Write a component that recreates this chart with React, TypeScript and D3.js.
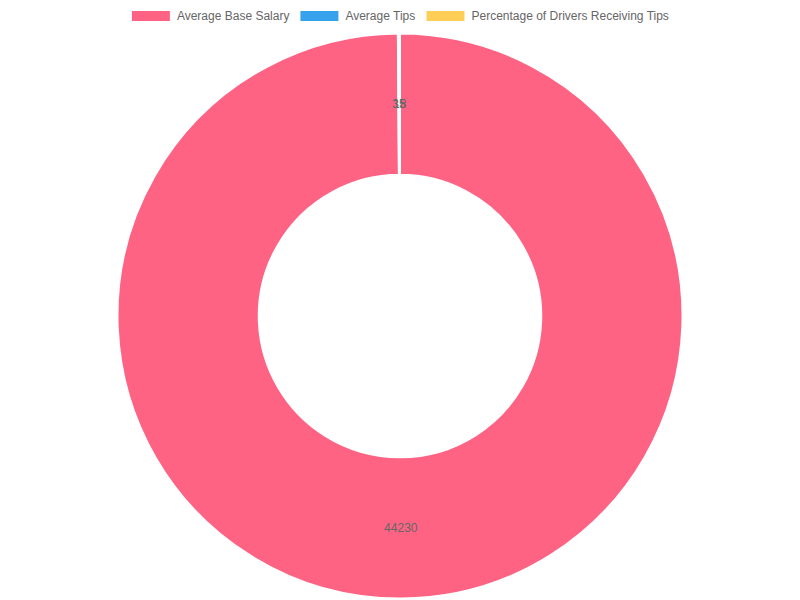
import React from "react";
import * as d3 from "d3";

const categories = ["Average Base Salary", "Average Tips", "Percentage of Drivers Receiving Tips"];
const values = [44230, 35, 18];
const colors = ["rgb(255, 99, 132)", "rgb(54, 162, 235)", "rgb(255, 206, 86)"];

const W = 800;
const H = 600;
const FONT = "'Liberation Sans', Arial, Helvetica, sans-serif";

function measure(text: string, size: number): number {
  const c = document.createElement("canvas").getContext("2d");
  if (!c) return text.length * size * 0.5;
  c.font = `${size}px ${FONT}`;
  return c.measureText(text).width;
}

export default function App() {
  const cx = W / 2;
  const cy = 316;
  const outer = 282.5;
  const inner = outer / 2;

  const pie = d3.pie<number>().sort(null).value((d) => d);
  const arcs = pie(values);
  const arcGen = d3.arc<d3.PieArcDatum<number>>().innerRadius(inner).outerRadius(outer);
  const labelArc = d3
    .arc<d3.PieArcDatum<number>>()
    .innerRadius((inner + outer) / 2)
    .outerRadius((inner + outer) / 2);

  // legend layout
  const boxW = 40;
  const boxH = 12;
  const gap = 10;
  const textGap = 6;
  const widths = categories.map((c) => boxW + textGap + measure(c, 12));
  const total = widths.reduce((a, b) => a + b, 0) + gap * (categories.length - 1);
  let x0 = (W - total) / 2;
  const legendItems = categories.map((c, i) => {
    const x = x0;
    x0 += widths[i] + gap;
    return { c, x, color: colors[i] };
  });

  return (
    <svg
      width={W}
      height={H}
      style={{ position: "fixed", left: 0, top: 0, background: "#fff" }}
      fontFamily={FONT}
    >
      <g>
        {legendItems.map((it) => (
          <g key={it.c}>
            <rect x={it.x} y={10} width={boxW} height={boxH} fill={it.color} stroke="#fff" strokeWidth={2} />
            <text x={it.x + boxW + textGap} y={16} dominantBaseline="central" fontSize={12} fill="#666">
              {it.c}
            </text>
          </g>
        ))}
      </g>
      <g transform={`translate(${cx},${cy})`}>
        {arcs.map((a, i) => (
          <path key={i} d={arcGen(a) || ""} fill={colors[i]} stroke="#fff" strokeWidth={2} strokeLinejoin="round" />
        ))}
        {arcs.map((a, i) => {
          const [lx, ly] = labelArc.centroid(a);
          return (
            <text
              key={"l" + i}
              x={lx}
              y={ly}
              textAnchor="middle"
              dominantBaseline="central"
              fontSize={12}
              fill="#666"
            >
              {values[i]}
            </text>
          );
        })}
      </g>
    </svg>
  );
}
